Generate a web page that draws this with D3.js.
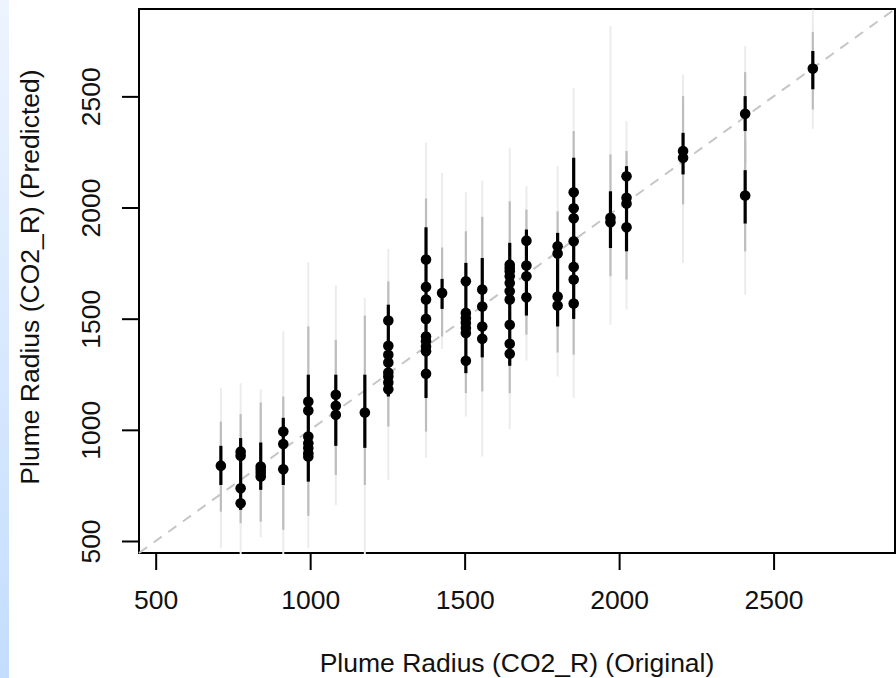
<!DOCTYPE html>
<html>
<head>
<meta charset="utf-8">
<script src="https://cdn.jsdelivr.net/npm/d3@7"></script>
<style>
  html, body { margin: 0; padding: 0; background: #fff; }
  svg { display: block; }
</style>
</head>
<body>
<script>
const WIDTH = 896;
const HEIGHT = 678;
const BOX = { left: 139, top: 9, right: 895, bottom: 553 };
const FONT = "'Liberation Sans', Arial, sans-serif";

// x position of each column of predictions (original radius)
const groupX = [711, 775, 840, 913, 994, 1083, 1177, 1253, 1375, 1427, 1504, 1557, 1646, 1700, 1801, 1853, 1972, 2024, 2207, 2408, 2627];
// predicted values in each column
const groupPred = [
  [839],
  [902, 883, 737, 670],
  [835, 820, 806, 790],
  [992, 936, 823],
  [1127, 1087, 970, 940, 918, 895, 880],
  [1158, 1108, 1068],
  [1078],
  [1492, 1378, 1338, 1303, 1258, 1240, 1213, 1183],
  [1766, 1643, 1586, 1499, 1420, 1398, 1375, 1353, 1252],
  [1616],
  [1668, 1526, 1503, 1481, 1458, 1436, 1311],
  [1631, 1555, 1465, 1410],
  [1743, 1728, 1713, 1691, 1661, 1623, 1586, 1473, 1387, 1342],
  [1851, 1739, 1691, 1596],
  [1826, 1793, 1600, 1559],
  [2069, 1997, 1952, 1848, 1733, 1676, 1568],
  [1954, 1934],
  [2141, 2044, 2018, 1911],
  [2254, 2224],
  [2422, 2054],
  [2625]
];

// interval bands (outer / middle / inner)
const bandX   = [711, 775, 840, 913, 994, 1083, 1177, 1253, 1375, 1427, 1504, 1557, 1646, 1700, 1801, 1853, 1972, 2024, 2207, 2408, 2408, 2627];
const outerHi = [1188, 1210, 1183, 1443, 1754, 1649, 1593, 1814, 2291, 2156, 2069, 2122, 2269, 2096, 2186, 2539, 2817, 2389, 2599, 2727, 2450, 2890];
const outerLo = [467, 440, 517, 440, 467, 662, 440, 775, 873, 1364, 1060, 880, 1003, 1312, 1240, 1143, 1473, 1541, 1751, 2050, 1608, 2354];
const midHi   = [1037, 1071, 1123, 1150, 1465, 1405, 1514, 1668, 2041, 1820, 1893, 1958, 2028, 1991, 1983, 2344, 2239, 2254, 2501, 2609, 2300, 2790];
const midLo   = [632, 580, 587, 550, 613, 797, 752, 1015, 992, 1420, 1165, 1173, 1165, 1428, 1348, 1338, 1691, 1676, 2014, 2200, 1803, 2441];
const innerHi = [928, 963, 943, 1054, 1248, 1248, 1248, 1563, 1911, 1679, 1751, 1773, 1841, 1901, 1886, 2224, 2073, 2186, 2336, 2501, 2168, 2704];
const innerLo = [752, 640, 730, 752, 767, 928, 919, 1150, 1143, 1544, 1255, 1326, 1288, 1514, 1465, 1499, 1818, 1803, 2149, 2344, 1928, 2532];

const ticks = [500, 1000, 1500, 2000, 2500];
const DOMAIN = [446, 2893];

const svg = d3.select("body").append("svg")
  .attr("width", WIDTH).attr("height", HEIGHT);

// left page strip
const defs = svg.append("defs");
const grad = defs.append("linearGradient").attr("id", "strip")
  .attr("x1", 0).attr("y1", 0).attr("x2", 0).attr("y2", 1);
grad.append("stop").attr("offset", "0%").attr("stop-color", "#edf4fe");
grad.append("stop").attr("offset", "100%").attr("stop-color", "#c4ddfd");
svg.append("rect").attr("x", 0).attr("y", 0).attr("width", 9).attr("height", HEIGHT)
  .attr("fill", "url(#strip)");

defs.append("clipPath").attr("id", "plotclip").append("rect")
  .attr("x", BOX.left - 1).attr("y", BOX.top - 1)
  .attr("width", BOX.right - BOX.left + 2).attr("height", BOX.bottom - BOX.top + 2);

const x = d3.scaleLinear().domain(DOMAIN).range([BOX.left, BOX.right]);
const y = d3.scaleLinear().domain(DOMAIN).range([BOX.bottom, BOX.top]);

// box
svg.append("rect")
  .attr("x", BOX.left).attr("y", BOX.top)
  .attr("width", BOX.right - BOX.left).attr("height", BOX.bottom - BOX.top)
  .attr("fill", "none").attr("stroke", "#000").attr("stroke-width", 2);

// axes
const xAxis = svg.append("g")
  .attr("transform", "translate(0," + BOX.bottom + ")")
  .call(d3.axisBottom(x).tickValues(ticks).tickFormat(d3.format("d")).tickSize(17).tickSizeOuter(0));
const yAxis = svg.append("g")
  .attr("transform", "translate(" + BOX.left + ",0)")
  .call(d3.axisLeft(y).tickValues(ticks).tickFormat(d3.format("d")).tickSize(17).tickSizeOuter(0));

[xAxis, yAxis].forEach(g => {
  g.select(".domain").remove();
  g.selectAll(".tick line").attr("stroke", "#000").attr("stroke-width", 2);
  g.selectAll(".tick text")
    .attr("fill", "#111")
    .style("font-family", FONT)
    .style("font-size", "26.5px");
});
xAxis.selectAll(".tick text").attr("y", 56).attr("dy", 0);
yAxis.selectAll(".tick text")
  .attr("x", null).attr("dy", 0)
  .attr("text-anchor", "middle")
  .attr("transform", "translate(-39,0) rotate(-90)");

// axis titles
svg.append("text")
  .attr("x", (BOX.left + BOX.right) / 2).attr("y", 672)
  .attr("text-anchor", "middle")
  .style("font-family", FONT).style("font-size", "26.5px").attr("fill", "#111")
  .text("Plume Radius (CO2_R) (Original)");
svg.append("text")
  .attr("transform", "translate(39," + ((BOX.top + BOX.bottom) / 2 - 4) + ") rotate(-90)")
  .attr("text-anchor", "middle")
  .style("font-family", FONT).style("font-size", "26.5px").attr("fill", "#111")
  .text("Plume Radius (CO2_R) (Predicted)");

const plot = svg.append("g").attr("clip-path", "url(#plotclip)");

// 1:1 reference line
plot.append("line")
  .attr("x1", x(DOMAIN[0])).attr("y1", y(DOMAIN[0]))
  .attr("x2", x(DOMAIN[1])).attr("y2", y(DOMAIN[1]))
  .attr("stroke", "#c6c6c6").attr("stroke-width", 2)
  .attr("stroke-dasharray", "10,8");

const bands = [
  { lo: outerLo, hi: outerHi, color: "#ececec", w: 2 },
  { lo: midLo, hi: midHi, color: "#bdbdbd", w: 2.2 },
  { lo: innerLo, hi: innerHi, color: "#000", w: 3.2 }
];
bands.forEach(b => {
  plot.append("g").selectAll("line")
    .data(bandX)
    .enter().append("line")
    .attr("x1", d => x(d)).attr("x2", d => x(d))
    .attr("y1", (d, i) => y(b.lo[i])).attr("y2", (d, i) => y(b.hi[i]))
    .attr("stroke", b.color).attr("stroke-width", b.w);
});

const points = groupX.flatMap((gx, i) => groupPred[i].map(p => ({ x: gx, y: p })));
plot.append("g").selectAll("circle")
  .data(points)
  .enter().append("circle")
  .attr("cx", d => x(d.x)).attr("cy", d => y(d.y))
  .attr("r", 5.3)
  .attr("fill", "#000");
</script>
</body>
</html>
